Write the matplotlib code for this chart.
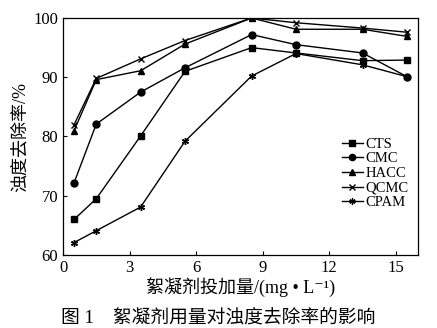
import numpy as np
import matplotlib
matplotlib.use("Agg")
import matplotlib.pyplot as plt

plt.rcParams["font.family"] = ["Liberation Serif", "Noto Sans CJK SC", "DejaVu Sans"]

dose = [0.5, 1.5, 3.5, 5.5, 8.5, 10.5, 13.5, 15.5]
cts = [66.0, 69.5, 80.1, 91.0, 95.0, 94.1, 92.8, 92.9]
cmc = [72.2, 82.1, 87.5, 91.6, 97.2, 95.5, 94.1, 90.1]
hacc = [81.0, 89.6, 91.1, 95.6, 100.0, 98.1, 98.1, 96.9]
qcmc = [82.0, 89.8, 93.1, 96.2, 100.0, 99.2, 98.3, 97.6]
cpam = [62.1, 64.1, 68.1, 79.2, 90.2, 94.0, 92.1, 90.1]

series = [("CTS", cts, "s"), ("CMC", cmc, "o"), ("HACC", hacc, "^"),
          ("QCMC", qcmc, "x"), ("CPAM", cpam, (6, 2, 0))]

fig = plt.figure(figsize=(4.37, 3.28), dpi=100)
ax = fig.add_axes([63 / 437, 1 - 255 / 328, 355 / 437, 237 / 328])

for name, vals, m in series:
    ax.plot(dose, vals, color="black", lw=1.0, marker=m, markersize=5,
            mew=1.0, label=name)

ax.set_xlim(0, 16)
ax.set_ylim(60, 100)
ax.set_xticks([0, 3, 6, 9, 12, 15])
ax.set_yticks([60, 70, 80, 90, 100])
ax.tick_params(direction="in", labelsize=12, length=3, width=0.8)
for s in ax.spines.values():
    s.set_linewidth(0.9)

ax.set_ylabel("浊度去除率/%", fontsize=13, labelpad=3)
ax.set_xlabel("絮凝剂投加量/(mg \u2022 L\u207b\u00b9)", fontsize=13, labelpad=1)

ax.legend(loc="upper left", bbox_to_anchor=(0.77, 0.52), frameon=False, fontsize=10.5,
          handlelength=1.4, handletextpad=0.2, labelspacing=0.1, borderaxespad=0,
          markerscale=0.9)

fig.text(0.5, 1 - 318 / 328, "图 1    絮凝剂用量对浊度去除率的影响", ha="center", va="center", fontsize=13.5)

fig.savefig("out.png", dpi=100)
